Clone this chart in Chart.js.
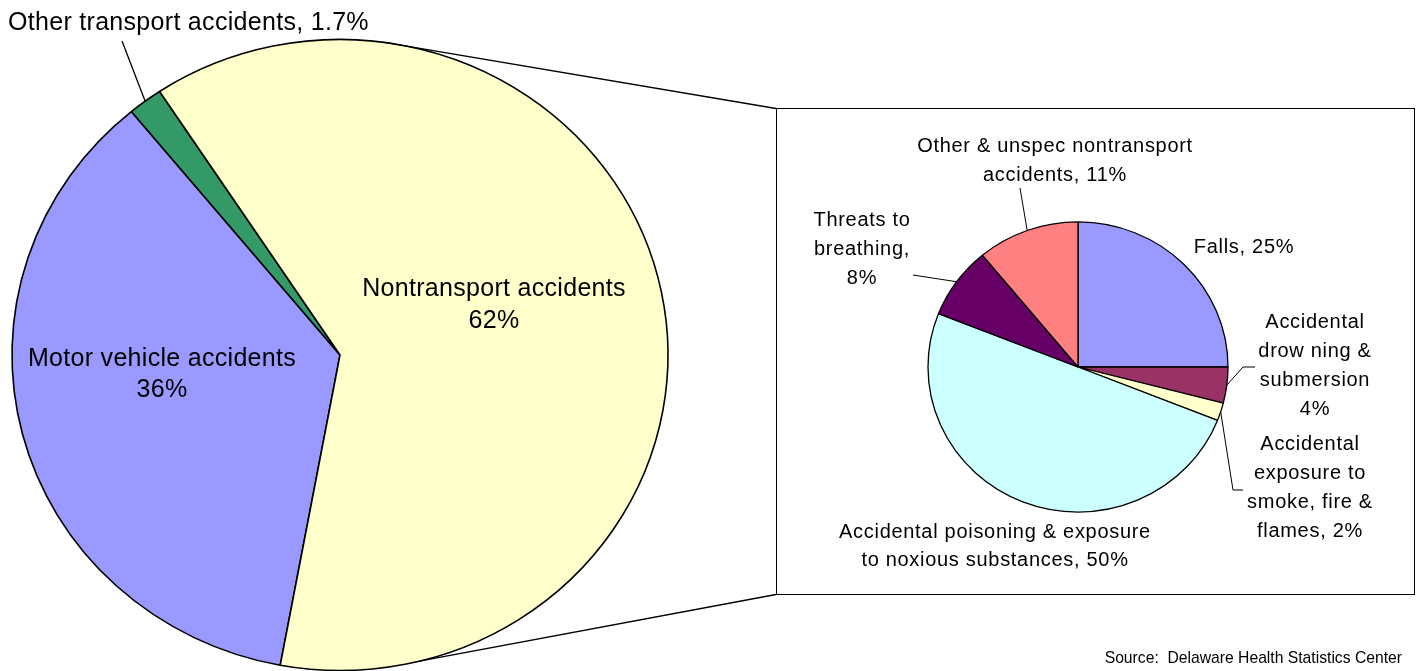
<!DOCTYPE html>
<html>
<head>
<meta charset="utf-8">
<title>Unintentional injury deaths by cause</title>
<script src="https://cdn.jsdelivr.net/npm/chart.js@4.4.1/dist/chart.umd.min.js"></script>
<style>
  html, body { margin: 0; padding: 0; background: #fff; overflow: hidden; width: 1419px; height: 671px; }
  #mainChart { position: absolute; left: 0; top: 0; }
  #box { position: absolute; left: 776px; top: 108px; width: 637px; height: 485px; border: 1px solid #000; background: #fff; }
  #subChart { position: absolute; left: 0; top: 0; }
</style>
</head>
<body>
<canvas id="mainChart" width="1419" height="710"></canvas>
<div id="box"><canvas id="subChart" width="637" height="485"></canvas></div>

<script>
// main pie: all unintentional injury deaths
const mainCategories = ["Motor vehicle accidents", "Other transport accidents", "Nontransport accidents"];
const mainValues = [36, 1.7, 62];
const mainColors = ["#9999FF", "#339966", "#FFFFCC"];
const mainLabelText = [
  ["Motor vehicle accidents", "36%"],
  ["Other transport accidents, 1.7%"],
  ["Nontransport accidents", "62%"]
];

// breakdown of nontransport accidents
const subCategories = ["Falls", "Accidental drowning & submersion", "Accidental exposure to smoke, fire & flames",
  "Accidental poisoning & exposure to noxious substances", "Threats to breathing", "Other & unspec nontransport accidents"];
const subValues = [25, 4, 2, 50, 8, 11];
const subColors = ["#9999FF", "#993366", "#FFFFCC", "#CCFFFF", "#660066", "#FF8080"];
const subLabelText = [
  ["Falls, 25%"],
  ["Accidental", "drow ning &", "submersion", "4%"],
  ["Accidental", "exposure to", "smoke, fire &", "flames, 2%"],
  ["Accidental poisoning & exposure", "to noxious substances, 50%"],
  ["Threats to", "breathing,", "8%"],
  ["Other & unspec nontransport", "accidents, 11%"]
];

const sourceText = "Source:  Delaware Health Statistics Center";

// label placement, offsets from the pie centre
const mainLabelPos = [
  { x: -178, y: [4, 35] },
  { x: -332, y: [-332], align: "left", leader: [[-218, -314]] },
  { x: 154, y: [-66, -34] }
];
const subLabelPos = [
  { x: 166, y: [-120] },
  { x: 237, y: [-45, -16, 13, 42], leader: [[177, 0], [165, 0]] },
  { x: 232, y: [77, 106, 135, 164], leader: [[165, 123], [155, 123]] },
  { x: -83, y: [165, 193] },
  { x: -216, y: [-147, -118, -89], leader: [[-165, -92]] },
  { x: -23, y: [-221, -192], leader: [[-58, -179]] }
];
const connectorAngles = [7.5, 166];

const FONT = '"Liberation Sans", Arial, sans-serif';

// the original pies are slightly squashed vertically
const squash = {
  id: "squash",
  beforeDatasetsDraw(chart, args, opts) {
    const arc = chart.getDatasetMeta(0).data[0];
    const ctx = chart.ctx;
    ctx.save();
    ctx.translate(arc.x, arc.y);
    ctx.scale(1, opts.sy);
    ctx.translate(-arc.x, -arc.y);
  },
  afterDatasetsDraw(chart) {
    chart.ctx.restore();
  }
};

function midEdge(arc, sy) {
  const a = (arc.startAngle + arc.endAngle) / 2;
  return [arc.x + arc.outerRadius * Math.cos(a), arc.y + arc.outerRadius * Math.sin(a) * sy];
}

function drawLabels(chart, texts, layout, sy, size, spacing, lineW) {
  const ctx = chart.ctx;
  const arcs = chart.getDatasetMeta(0).data;
  const cx = arcs[0].x, cy = arcs[0].y;
  ctx.save();
  ctx.fillStyle = "#000";
  ctx.strokeStyle = "#000";
  ctx.font = size + "px " + FONT;
  ctx.letterSpacing = spacing + "px";
  ctx.textBaseline = "middle";
  texts.forEach((lines, i) => {
    const p = layout[i];
    ctx.textAlign = p.align || "center";
    lines.forEach((t, j) => ctx.fillText(t, cx + p.x, cy + p.y[j]));
    if (p.leader) {
      const end = midEdge(arcs[i], sy);
      ctx.lineWidth = lineW;
      ctx.beginPath();
      p.leader.forEach((pt, k) => {
        if (k === 0) ctx.moveTo(cx + pt[0], cy + pt[1]);
        else ctx.lineTo(cx + pt[0], cy + pt[1]);
      });
      ctx.lineTo(end[0], end[1]);
      ctx.stroke();
    }
  });
  ctx.restore();
}

const mainText = {
  id: "mainText",
  afterDraw(chart) {
    drawLabels(chart, mainLabelText, mainLabelPos, 0.962, 25, 0.3, 1.3);
    const ctx = chart.ctx;
    const arc = chart.getDatasetMeta(0).data[0];
    const box = document.getElementById("box");
    const corners = [[box.offsetLeft, box.offsetTop + 0.5], [box.offsetLeft, box.offsetTop + box.offsetHeight - 0.5]];
    ctx.save();
    ctx.strokeStyle = "#000";
    ctx.lineWidth = 1.3;
    connectorAngles.forEach((deg, i) => {
      const a = (deg - 90) * Math.PI / 180;
      ctx.beginPath();
      ctx.moveTo(arc.x + arc.outerRadius * Math.cos(a), arc.y + arc.outerRadius * Math.sin(a) * 0.962);
      ctx.lineTo(corners[i][0], corners[i][1]);
      ctx.stroke();
    });
    ctx.fillStyle = "#000";
    ctx.font = "15.7px " + FONT;
    ctx.textAlign = "right";
    ctx.textBaseline = "middle";
    ctx.fillText(sourceText, 1402, 659);
    ctx.restore();
  }
};

const subText = {
  id: "subText",
  afterDraw(chart) {
    drawLabels(chart, subLabelText, subLabelPos, 0.967, 20, 0.7, 1);
  }
};

new Chart(document.getElementById("mainChart"), {
  type: "pie",
  data: {
    labels: mainCategories,
    datasets: [{ data: mainValues, backgroundColor: mainColors, borderColor: "#000", borderWidth: 1.6, radius: 328, rotation: 190.5 }]
  },
  options: {
    responsive: false,
    animation: false,
    events: [],
    layout: { padding: { right: 739 } },
    plugins: { legend: { display: false }, tooltip: { enabled: false }, squash: { sy: 0.962 } }
  },
  plugins: [squash, mainText]
});

new Chart(document.getElementById("subChart"), {
  type: "pie",
  data: {
    labels: subCategories,
    datasets: [{ data: subValues, backgroundColor: subColors, borderColor: "#000", borderWidth: 1.3, radius: 150, rotation: 0 }]
  },
  options: {
    responsive: false,
    animation: false,
    events: [],
    layout: { padding: { top: 31, right: 35 } },
    plugins: { legend: { display: false }, tooltip: { enabled: false }, squash: { sy: 0.967 } }
  },
  plugins: [squash, subText]
});
</script>
</body>
</html>
